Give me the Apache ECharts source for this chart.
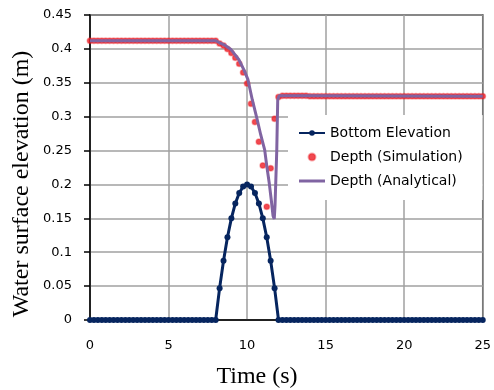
<!DOCTYPE html>
<html>
<head>
<meta charset="utf-8">
<script src="https://cdn.jsdelivr.net/npm/echarts@6/dist/echarts.min.js"></script>
<style>
  html, body { margin: 0; padding: 0; background: #fff; }
  #chart-container { width: 494px; height: 390px; }
</style>
</head>
<body>
<div id="chart-container"></div>
<script>
// time grid of the simulation output (every 0.25 s, 0 .. 25)
const timeStep = 0.25;

// bottom elevation (m)
const bottomElevation = [
  0, 0, 0, 0, 0, 0, 0, 0, 0, 0, 0, 0, 0, 0, 0, 0, 0, 0, 0, 0,
  0, 0, 0, 0, 0, 0, 0, 0, 0, 0, 0, 0, 0,
  0.047, 0.0875, 0.122, 0.15, 0.172, 0.1875, 0.197, 0.2,
  0.197, 0.1875, 0.172, 0.15, 0.122, 0.0875, 0.047,
  0, 0, 0, 0, 0, 0, 0, 0, 0, 0, 0, 0, 0, 0, 0, 0, 0, 0, 0, 0,
  0, 0, 0, 0, 0, 0, 0, 0, 0, 0, 0, 0, 0, 0, 0, 0, 0, 0, 0, 0,
  0, 0, 0, 0, 0, 0, 0, 0, 0, 0, 0, 0, 0
];

// water surface, simulation (m)
const depthSimulation = [
  0.412, 0.412, 0.412, 0.412, 0.412, 0.412, 0.412, 0.412, 0.412, 0.412,
  0.412, 0.412, 0.412, 0.412, 0.412, 0.412, 0.412, 0.412, 0.412, 0.412,
  0.412, 0.412, 0.412, 0.412, 0.412, 0.412, 0.412, 0.412, 0.412, 0.412,
  0.412, 0.412, 0.412,
  0.408, 0.405, 0.400, 0.394, 0.387, 0.378, 0.365, 0.349,
  0.319, 0.292, 0.263, 0.228, 0.167, 0.224, 0.297, 0.329,
  0.331, 0.331, 0.331, 0.331, 0.331, 0.331, 0.331,
  0.330, 0.330, 0.330, 0.330, 0.330, 0.330, 0.330, 0.330, 0.330, 0.330,
  0.330, 0.330, 0.330, 0.330, 0.330, 0.330, 0.330, 0.330, 0.330, 0.330,
  0.330, 0.330, 0.330, 0.330, 0.330, 0.330, 0.330, 0.330, 0.330, 0.330,
  0.330, 0.330, 0.330, 0.330, 0.330, 0.330, 0.330, 0.330, 0.330, 0.330,
  0.330, 0.330, 0.330, 0.330, 0.330
];

// water surface, analytical (m)
const analyticalTime = [0, 8, 8.25, 8.54, 8.98, 9.48, 9.8, 10.05, 10.33, 10.62, 10.87, 11.12,
  11.26, 11.41, 11.54, 11.65, 11.73, 11.78, 11.89, 11.95, 12.05, 14, 25];
const analyticalDepth = [0.412, 0.412, 0.409, 0.406, 0.399, 0.384, 0.369, 0.355, 0.325, 0.298, 0.273, 0.251,
  0.226, 0.202, 0.177, 0.154, 0.149, 0.17, 0.251, 0.325, 0.331, 0.331, 0.330];

const timeGrid = bottomElevation.map((_, i) => i * timeStep);
const pairs = (xs, ys) => ys.map((y, i) => [xs[i], y]);

const chart = echarts.init(document.getElementById("chart-container"));

const tickFont = { fontFamily: "DejaVu Sans", fontSize: 13, color: "#000" };

const options = {
    animation: false,
    backgroundColor: "#fff",
    grid: {
        show: true,
        left: 90,
        right: 7,
        top: 15,
        bottom: 70,
        borderColor: "#000",
        borderWidth: 1.5
    },
    xAxis: {
        type: "value",
        min: 0,
        max: 25,
        interval: 5,
        axisLine: { show: true, lineStyle: { color: "#000", width: 1.5 } },
        axisTick: { show: false },
        axisLabel: Object.assign({ margin: 19 }, tickFont),
        splitLine: { show: true, lineStyle: { color: "#a0a0a0", width: 1.5 } }
    },
    yAxis: {
        type: "value",
        min: 0,
        max: 0.45,
        interval: 0.05,
        axisLine: { show: true, lineStyle: { color: "#000", width: 1.5 } },
        axisTick: { show: true, inside: false, length: 6, lineStyle: { color: "#000", width: 1.5 } },
        axisLabel: Object.assign({ margin: 18 }, tickFont),
        splitLine: { show: true, lineStyle: { color: "#a0a0a0", width: 1.5 } }
    },
    legend: {
        orient: "vertical",
        left: 288,
        top: 115,
        padding: [11, 20, 12, 10],
        backgroundColor: "#fff",
        itemWidth: 26,
        itemHeight: 7,
        itemGap: 10,
        textStyle: { fontFamily: "DejaVu Sans", fontSize: 14, color: "#000" },
        data: [
            "Bottom Elevation",
            "Depth (Simulation)",
            { name: "Depth (Analytical)", icon: "path://M0,0 L26,0 L26,3 L0,3 Z" }
        ]
    },
    graphic: [
        {
            type: "text",
            x: 257,
            y: 377,
            style: {
                text: "Time (s)",
                font: "24px 'Liberation Serif'",
                fill: "#000",
                textAlign: "center",
                textVerticalAlign: "middle"
            }
        },
        {
            type: "text",
            x: 22,
            y: 184,
            rotation: Math.PI / 2,
            style: {
                text: "Water surface elevation (m)",
                font: "24px 'Liberation Serif'",
                fill: "#000",
                textAlign: "center",
                textVerticalAlign: "middle"
            }
        }
    ],
    series: [
        {
            name: "Bottom Elevation",
            type: "line",
            data: pairs(timeGrid, bottomElevation),
            symbol: "circle",
            symbolSize: 6,
            lineStyle: { color: "#06255f", width: 3 },
            itemStyle: { color: "#06255f" }
        },
        {
            name: "Depth (Simulation)",
            type: "scatter",
            data: pairs(timeGrid, depthSimulation),
            symbol: "circle",
            symbolSize: 5.5,
            itemStyle: { color: "#ec1c24", borderColor: "rgba(236,28,36,0.45)", borderWidth: 1.5 }
        },
        {
            name: "Depth (Analytical)",
            type: "line",
            data: pairs(analyticalTime, analyticalDepth),
            showSymbol: false,
            symbol: "none",
            lineStyle: { color: "#8064a2", width: 3 },
            itemStyle: { color: "#8064a2" }
        }
    ]
};

chart.setOption(options);
</script>
</body>
</html>
